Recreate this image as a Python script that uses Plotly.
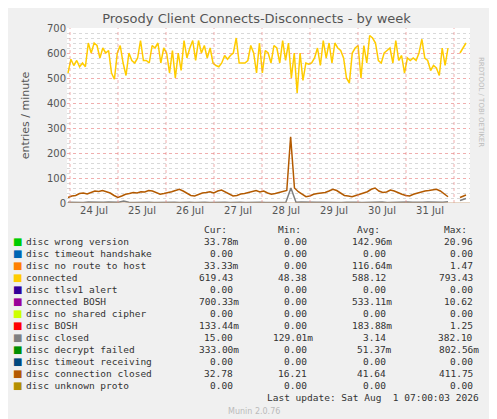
import plotly.graph_objects as go
import pandas as pd

# Data
connected = [520, 575, 550, 570, 545, 560, 545, 640, 600, 640, 630, 580, 620, 600, 610, 520, 495, 600,
             630, 560, 510, 600, 570, 560, 580, 650, 570, 570, 560, 630, 620, 640, 560, 620, 600, 520,
             610, 500, 600, 530, 650, 580, 620, 650, 570, 650, 600, 630, 580, 620, 560, 550, 545, 560,
             590, 575, 590, 600, 660, 560, 560, 560, 570, 630, 600, 520, 640, 520, 610, 600, 560, 630,
             620, 560, 650, 570, 640, 500, 600, 440, 600, 490, 560, 555, 560, 580, 620, 550, 650, 580,
             640, 560, 640, 620, 610, 580, 500, 480, 600, 620, 630, 500, 630, 560, 670, 660, 640, 570,
             560, 600, 610, 620, 560, 650, 570, 590, 520, 580, 570, 580, 570, 600, 655, 580, 570, 530,
             550, 540, 510, 620, 550, 620]
connected_tail = [600, 640]

conn_closed = [22, 28, 30, 38, 40, 36, 42, 48, 46, 50, 45, 40, 30, 22, 28, 35, 38, 42, 40, 45, 44, 50,
               48, 40, 35, 38, 40, 45, 50, 55, 48, 40, 30, 28, 35, 40, 42, 45, 40, 48, 52, 45, 35, 28,
               30, 36, 38, 42, 45, 50, 44, 48, 40, 35, 38, 42, 45, 50, 265, 60, 45, 35, 25, 28, 35,
               38, 40, 42, 48, 55, 50, 40, 30, 28, 25, 30, 35, 40, 45, 55, 60, 48, 42, 44, 52, 48,
               40, 35, 30, 28, 35, 40, 45, 48, 50, 52, 55, 48, 35, 25]
conn_closed_tail = [22, 32]

disc_closed = [3, 2, 3, 2, 4, 3, 2, 3, 4, 2, 3, 8, 3, 2, 3, 4, 3, 2, 3, 2, 4, 3, 2, 3, 3, 2, 4, 3, 2,
               3, 2, 3, 2, 4, 3, 2, 3, 4, 3, 2, 3, 4, 2, 3, 60, 3, 4, 3, 2, 3, 3, 2, 4, 3, 2, 3, 4, 3,
               2, 3, 2, 3, 4, 2, 3, 3, 2, 4, 3, 2, 3, 4, 3, 2, 3, 5]
disc_closed_tail = [10, 18]

legend_names = ["disc wrong version", "disc timeout handshake", "disc no route to host", "connected",
                "disc tlsv1 alert", "connected BOSH", "disc no shared cipher", "disc BOSH", "disc closed",
                "disc decrypt failed", "disc timeout receiving", "disc connection closed", "disc unknown proto"]
legend_colors = ["#00cc00", "#0066b3", "#ff8000", "#ffcc00", "#330099", "#990099", "#ccff00", "#ff0000",
                 "#808080", "#008f00", "#00487d", "#b35a00", "#b38f00"]
cur = ["33.78m", "0.00", "33.33m", "619.43", "0.00", "700.33m", "0.00", "133.44m", "15.00", "333.00m", "0.00", "32.78", "0.00"]
mins = ["0.00", "0.00", "0.00", "48.38", "0.00", "0.00", "0.00", "0.00", "129.01m", "0.00", "0.00", "16.21", "0.00"]
avgs = ["142.96m", "0.00", "116.64m", "588.12", "0.00", "533.11m", "0.00", "183.88m", "3.14", "51.37m", "0.00", "41.64", "0.00"]
maxs = ["20.96", "0.00", "1.47", "793.43", "0.00", "10.62", "0.00", "1.25", "382.10", "802.56m", "0.00", "411.75", "0.00"]

start = pd.Timestamp("2026-07-23 23:00")
end = pd.Timestamp("2026-07-31 21:00")
tail_x = pd.date_range("2026-08-01 03:00", "2026-08-01 06:00", periods=2)

fig = go.Figure()
for vals, tail, color in [(disc_closed, disc_closed_tail, "#808080"),
                          (conn_closed, conn_closed_tail, "#b35a00"),
                          (connected, connected_tail, "#ffcc00")]:
    xs = pd.date_range(start, end, periods=len(vals))
    fig.add_trace(go.Scatter(x=list(xs) + [None] + list(tail_x), y=vals + [None] + tail,
                             mode="lines", line=dict(color=color, width=1.5), showlegend=False))

# page has an 8px body margin; plot area on screen: x 67..470, y 28..203
fig.update_layout(
    width=497, height=419, margin=dict(l=59, r=35, t=20, b=224),
    paper_bgcolor="#f0f0f0", plot_bgcolor="white",
    font=dict(family="DejaVu Sans", size=10, color="#555"),
    title=dict(text="Prosody Client Connects-Disconnects - by week", x=0.5, xanchor="center",
               y=0.985, font=dict(size=13, color="#555")),
    xaxis=dict(range=["2026-07-23 22:30", "2026-08-01 08:00"],
               tickvals=pd.date_range("2026-07-24 12:00", periods=8, freq="D"),
               ticktext=[f"{d} Jul" for d in range(24, 32)], showgrid=False,
               ticks="", zeroline=False, showline=False),
    yaxis=dict(range=[0, 700], dtick=100, gridcolor="rgba(230,120,120,0.6)", griddash="dot",
               minor=dict(dtick=20, showgrid=True, gridcolor="rgba(180,180,180,0.5)", griddash="dot"),
               zeroline=False, title=dict(text="entries / minute", font=dict(size=11, color="#555"))),
)
for d in pd.date_range("2026-07-24", periods=9, freq="D"):
    fig.add_vline(x=d, line=dict(color="rgba(230,120,120,0.6)", dash="dot", width=1))
fig.add_hline(y=0, line=dict(color="#ccaa88", width=1))

def px2paper(px, py):
    return (px - 69) / 403, (193 - py) / 175

mono = dict(family="DejaVu Sans Mono", size=9.5, color="#333")
for col, txt in [(243, "Cur:"), (317, "Min:"), (396, "Avg:"), (483, "Max:")]:
    x, y = px2paper(col - 12, 227)
    fig.add_annotation(x=x, y=y, xref="paper", yref="paper", text=txt, showarrow=False,
                       xanchor="right", font=mono)
for i, name in enumerate(legend_names):
    py = 239 + i * 12
    x, y = px2paper(13, py)
    fig.add_annotation(x=x, y=y, xref="paper", yref="paper", text="■", showarrow=False,
                       xanchor="left", font=dict(size=10, color=legend_colors[i]))
    x, y = px2paper(26, py)
    fig.add_annotation(x=x, y=y, xref="paper", yref="paper", text=name, showarrow=False,
                       xanchor="left", font=mono)
    for col, vals in [(243, cur), (317, mins), (396, avgs), (483, maxs)]:
        v = vals[i]
        x, y = px2paper(col + (0 if v.endswith("m") else -6), py)
        fig.add_annotation(x=x, y=y, xref="paper", yref="paper", text=v, showarrow=False,
                           xanchor="right", font=mono)
x, y = px2paper(483, 395)
fig.add_annotation(x=x, y=y, xref="paper", yref="paper", text="Last update: Sat Aug  1 07:00:03 2026",
                   showarrow=False, xanchor="right", font=mono)
x, y = px2paper(256, 408)
fig.add_annotation(x=x, y=y, xref="paper", yref="paper", text="Munin 2.0.76", showarrow=False,
                   font=dict(size=8, color="#bbb"))
x, y = px2paper(489, 45)
fig.add_annotation(x=x, y=y, xref="paper", yref="paper", text="RRDTOOL / TOBI OETIKER", showarrow=False,
                   textangle=90, font=dict(size=7, color="#bbb"))

fig.write_html("out.html")
